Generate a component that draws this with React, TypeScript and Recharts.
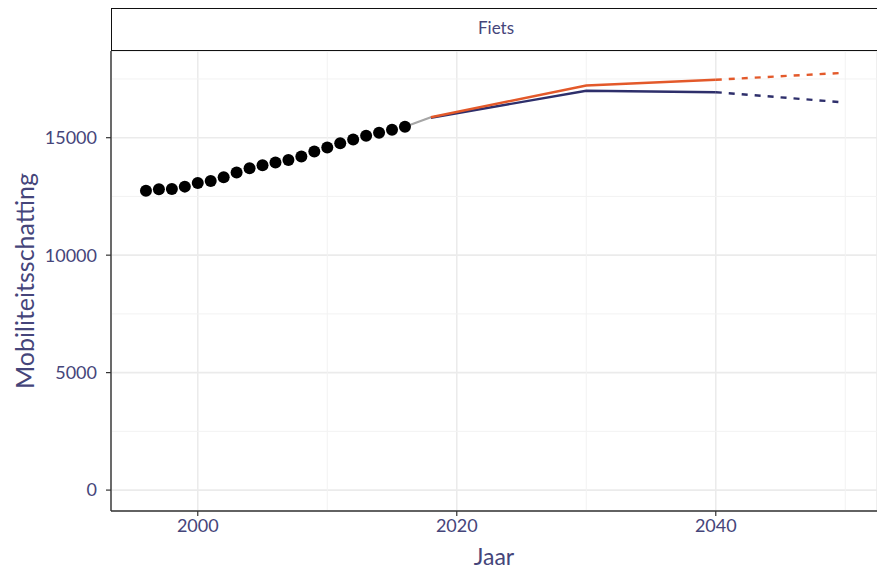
import {
  ComposedChart,
  Line,
  Scatter,
  XAxis,
  YAxis,
  CartesianGrid,
  ReferenceLine,
} from "recharts";

// observed counts
const observedYears = [1996, 1997, 1998, 1999, 2000, 2001, 2002, 2003, 2004, 2005, 2006, 2007, 2008, 2009, 2010, 2011, 2012, 2013, 2014, 2015, 2016];
const observedValues = [12746, 12802, 12819, 12917, 13074, 13160, 13313, 13514, 13697, 13825, 13940, 14055, 14196, 14409, 14579, 14763, 14920, 15078, 15206, 15334, 15462];

// link from last observation to model start
const bridgeYears = [2016, 2018];
const bridgeValues = [15462, 15871];

// scenario paths
const scenarioYears = [2018, 2030, 2040];
const highValues = [15871, 17223, 17466];
const lowValues = [15850, 16996, 16937];

// extrapolated part (dashed)
const extYears = [2040, 2050];
const highExtValues = [17466, 17764];
const lowExtValues = [16937, 16498];

const xTicks = [2000, 2020, 2040];
const xMinor = [2010, 2030, 2050];
const yTicks = [0, 5000, 10000, 15000];
const yMinor = [2500, 7500, 12500, 17500];

const TEXT = "#45457a";
const RED = "#e3592a";
const NAVY = "#2e2f6b";
const FONT = "Lato, 'Open Sans', sans-serif";

const toPoints = (xs: number[], ys: number[]) => xs.map((x, i) => ({ x, y: ys[i] }));

const observed = toPoints(observedYears, observedValues);
const bridge = toPoints(bridgeYears, bridgeValues);
const high = toPoints(scenarioYears, highValues);
const low = toPoints(scenarioYears, lowValues);
const highExt = toPoints(extYears, highExtValues);
const lowExt = toPoints(extYears, lowExtValues);

export default function App() {
  return (
    <div
      style={{
        position: "absolute",
        left: 0,
        top: 0,
        width: 877,
        height: 569,
        overflow: "hidden",
        background: "#fff",
        fontFamily: FONT,
      }}
    >
      <ComposedChart width={877} height={569} margin={{ top: 51, right: 0, left: 0, bottom: 0 }}>
        <CartesianGrid stroke="#ebebeb" strokeWidth={1.6} />
        {xMinor.map((v) => (
          <ReferenceLine key={`vx${v}`} x={v} stroke="#f2f2f2" strokeWidth={1} />
        ))}
        {yMinor.map((v) => (
          <ReferenceLine key={`hy${v}`} y={v} stroke="#f2f2f2" strokeWidth={1} />
        ))}
        <XAxis
          type="number"
          dataKey="x"
          domain={[1993.3, 2052.45]}
          ticks={xTicks}
          allowDataOverflow
          height={58}
          axisLine={{ stroke: "#333", strokeWidth: 1.4 }}
          tickLine={{ stroke: "#333", strokeWidth: 1.2 }}
          tickSize={5}
          tickMargin={3}
          tick={{ fill: TEXT, fontSize: 18, fontFamily: FONT }}
          label={{
            value: "Jaar",
            position: "insideBottom",
            offset: 4,
            fill: TEXT,
            fontSize: 23,
            fontFamily: FONT,
          }}
        />
        <YAxis
          type="number"
          dataKey="y"
          domain={[-890, 18690]}
          ticks={yTicks}
          allowDataOverflow
          width={111}
          axisLine={{ stroke: "#333", strokeWidth: 1.4 }}
          tickLine={{ stroke: "#333", strokeWidth: 1.2 }}
          tickSize={5}
          tickMargin={9}
          tick={{ fill: TEXT, fontSize: 18, fontFamily: FONT }}
          label={({ viewBox }: any) => {
            const cy = viewBox.y + viewBox.height / 2;
            return (
              <text
                x={24}
                y={cy}
                transform={`rotate(-90 24 ${cy})`}
                textAnchor="middle"
                dominantBaseline="central"
                fill={TEXT}
                fontSize={25}
                fontFamily={FONT}
              >
                Mobiliteitsschatting
              </text>
            );
          }}
        />
        <Line data={bridge} dataKey="y" stroke="#a6a6a6" strokeWidth={2.2} dot={false} isAnimationActive={false} />
        <Line data={low} dataKey="y" stroke={NAVY} strokeWidth={2.4} dot={false} isAnimationActive={false} />
        <Line data={high} dataKey="y" stroke={RED} strokeWidth={2.4} dot={false} isAnimationActive={false} />
        <Line data={lowExt} dataKey="y" stroke={NAVY} strokeWidth={2.4} strokeDasharray="6 7" dot={false} isAnimationActive={false} />
        <Line data={highExt} dataKey="y" stroke={RED} strokeWidth={2.4} strokeDasharray="6 7" dot={false} isAnimationActive={false} />
        <Scatter
          data={observed}
          dataKey="y"
          fill="#000"
          isAnimationActive={false}
          shape={(p: any) => <circle cx={p.cx} cy={p.cy} r={6} fill="#000" />}
        />
      </ComposedChart>
      <div
        style={{
          position: "absolute",
          left: 111,
          top: 8,
          width: 770,
          height: 43,
          boxSizing: "border-box",
          border: "1.5px solid #111",
          background: "#fff",
          display: "flex",
          alignItems: "center",
          justifyContent: "center",
          paddingBottom: 4,
          color: TEXT,
          fontSize: 17,
        }}
      >
        Fiets
      </div>
    </div>
  );
}
